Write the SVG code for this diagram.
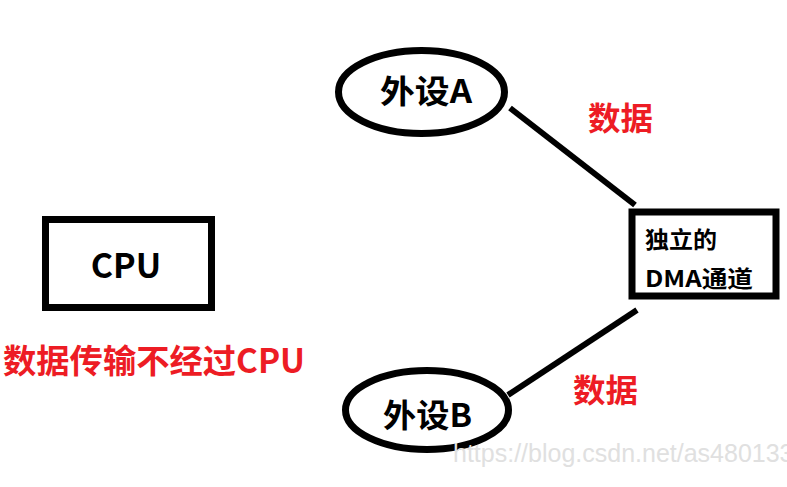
<svg xmlns="http://www.w3.org/2000/svg" width="787" height="487" viewBox="0 0 787 487">
<style>
.shape{fill:#fff;stroke:#000;stroke-width:7}
.lbl{font-family:"Noto Sans CJK SC","Microsoft YaHei",sans-serif;font-weight:bold;fill:#000}
.red{font-family:"Noto Sans CJK SC",sans-serif;font-weight:bold;fill:#ed1c24}
.conn{stroke:#000;stroke-width:6;stroke-linecap:butt;fill:none}
</style>
<rect width="787" height="487" fill="#fff"/>
<g id="connectors">
<line class="conn" x1="510" y1="108" x2="635" y2="205"/>
<line class="conn" x1="637" y1="310" x2="508" y2="395"/>
</g>
<g id="cpu">
<rect class="shape" x="45.5" y="219.5" width="166" height="88"/>
<text class="lbl" x="126" y="278" font-size="34" text-anchor="middle">CPU</text>
</g>
<g id="note">
<text class="red" x="3" y="373" font-size="33" textLength="302" lengthAdjust="spacingAndGlyphs">数据传输不经过CPU</text>
</g>
<g id="peripheralA">
<ellipse class="shape" cx="421.5" cy="92" rx="83" ry="41.5"/>
<text class="lbl" x="380" y="103" font-size="32" textLength="92" lengthAdjust="spacingAndGlyphs">外设A</text>
</g>
<g id="peripheralB">
<ellipse class="shape" cx="427" cy="410" rx="81.5" ry="39.5"/>
<text class="lbl" x="383" y="427" font-size="32" textLength="89" lengthAdjust="spacingAndGlyphs">外设B</text>
</g>
<g id="dma">
<rect class="shape" x="632" y="212" width="144" height="84"/>
<text class="lbl" x="645" y="248" font-size="23" textLength="72" lengthAdjust="spacingAndGlyphs">独立的</text>
<text class="lbl" x="645" y="287" font-size="23" textLength="108" lengthAdjust="spacingAndGlyphs">DMA通道</text>
</g>
<g id="labels">
<text class="red" x="588" y="130" font-size="32" textLength="65" lengthAdjust="spacingAndGlyphs">数据</text>
<text class="red" x="573" y="402" font-size="32" textLength="65" lengthAdjust="spacingAndGlyphs">数据</text>
</g>
<text x="453" y="462" font-family="Liberation Sans, Arial, sans-serif" font-size="25" fill="#e0e0e0">https://blog.csdn.net/as480133</text>
</svg>
